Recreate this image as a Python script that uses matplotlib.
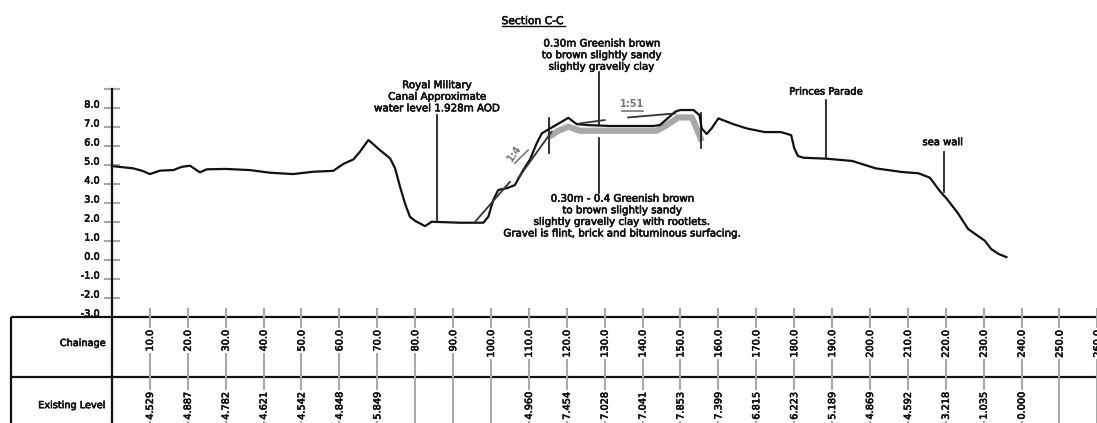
import matplotlib
matplotlib.use('Agg')
import matplotlib.pyplot as plt
import matplotlib.patheffects as pe
from matplotlib.transforms import ScaledTranslation

# ground profile
PROFILE_CH = [0, 5.6, 8, 10, 12.7, 16.2, 18.4, 20.6, 23.2, 25, 30, 36.4, 41.7, 47.8, 53, 58.4, 61, 63.7,
              65.44, 67.64, 68.5, 70.7, 73.4, 74.7, 76, 77.3, 78.6, 79.95, 82.6, 84.35, 91.8, 98, 99.3,
              100.6, 101.9, 104.1, 106.3, 108.5, 110.3, 112.05, 113.4, 115.6, 118.2, 120.4, 122.6, 125.3,
              131.4, 137.6, 142.9, 144.6, 148.6, 149.9, 153.4, 155, 155.6, 156.9, 158.2, 160, 163.9,
              167.5, 172.2, 176.5, 179.2, 180, 181, 182.4, 188.4, 195.3, 201.5, 208.4, 212.8, 215.8,
              218.5, 220.3, 223.2, 225.9, 230.3, 232, 234, 236]
PROFILE_LEVEL = [4.93, 4.81, 4.68, 4.51, 4.69, 4.72, 4.89, 4.95, 4.6, 4.76, 4.78, 4.72, 4.58, 4.51, 4.63,
                 4.68, 5.04, 5.28, 5.69, 6.3, 6.16, 5.77, 5.33, 4.81, 3.84, 2.97, 2.27, 2.05, 1.77, 2.0,
                 1.95, 1.95, 2.27, 3.14, 3.67, 3.76, 3.93, 4.72, 5.28, 6.12, 6.65, 6.91, 7.21, 7.47, 7.14,
                 7.09, 7.04, 7.04, 7.04, 7.09, 7.79, 7.88, 7.88, 7.62, 6.91, 6.62, 6.91, 7.44, 7.14,
                 6.91, 6.72, 6.72, 6.56, 5.88, 5.46, 5.37, 5.32, 5.2, 4.81, 4.62, 4.55, 4.32,
                 3.6, 3.2, 2.45, 1.62, 1.0, 0.56, 0.3, 0.14]

# grey clay layer under the embankment top
LAYER_CH = [116, 117.8, 120.4, 123.5, 143.7, 146.4, 149.4, 153, 154.1, 155.3]
LAYER_LEVEL = [6.56, 6.79, 7.0, 6.79, 6.79, 7.09, 7.49, 7.49, 7.0, 6.39]

# table
CHAINAGE = [10, 20, 30, 40, 50, 60, 70, 80, 90, 100, 110, 120, 130, 140, 150, 160, 170, 180, 190,
            200, 210, 220, 230, 240, 250, 260]
LEVEL_CH = [10, 20, 30, 40, 50, 60, 70, 110, 120, 130, 140, 150, 160, 170, 180, 190, 200, 210, 220, 230, 240]
LEVEL_LABELS = ['4.529', '4.887', '4.782', '4.621', '4.542', '4.848', '5.849', '4.960', '7.454', '7.028',
                '7.041', '7.853', '7.399', '6.815', '6.223', '5.189', '4.869', '4.592', '3.218', '1.035',
                '0.000']
Y_TICKS = [-3, -2, -1, 0, 1, 2, 3, 4, 5, 6, 7, 8, 9]

# leader lines: chainage, level from, level to
LEADERS = [(85.75, 7.62, 2.09), (128.6, 9.88, 7.09), (128.6, 6.4, 3.51), (115.4, 7.46, 5.62),
           (155.4, 7.72, 5.88), (188.5, 8.41, 5.35), (219.5, 5.67, 3.56)]
# slope lines: ch0, level0, ch1, level1
SLOPES = [(95.8, 2.0, 105, 4.1), (107.2, 4.3, 116, 6.74), (136.2, 7.49, 148.6, 7.7), (123.5, 7.18, 130, 7.35)]

BLACK = '#111111'
GREY = '#a8a8a8'
BOLDISH = [pe.withStroke(linewidth=0.45, foreground=BLACK)]


def label(ax, x, y, s, **kw):
    kw.setdefault('fontsize', 7)
    kw.setdefault('color', BLACK)
    kw.setdefault('ha', 'center')
    kw.setdefault('va', 'center')
    t = ax.text(x, y, s, **kw)
    t.set_path_effects(BOLDISH)
    return t


def draw_table(ax):
    ax.hlines([-3, -6.15], -26.65, 260, color=BLACK, lw=1.6, zorder=3)
    ax.vlines(-26.65, -8.6, -3, color=BLACK, lw=1.6, zorder=3)
    ax.vlines(CHAINAGE, -8.6, -2.54, color=GREY, lw=1.5, zorder=4)

    white = dict(facecolor='white', edgecolor='none', pad=1.2)
    for ch in CHAINAGE:
        label(ax, ch, -3.7, '%.1f' % ch, rotation=90, va='top', bbox=white, zorder=5, clip_on=True)
    for ch, s in zip(LEVEL_CH, LEVEL_LABELS):
        label(ax, ch, -6.96, s, rotation=90, va='top', bbox=white, zorder=5, clip_on=True)

    label(ax, -1.6, -4.38, 'Chainage', ha='right')
    label(ax, -1.6, -7.65, 'Existing Level', ha='right')


def draw_notes(ax):
    label(ax, 111, 12.56, 'Section C-C', fontsize=7.7)
    ax.plot([102.8, 119.5], [12.3, 12.3], color=BLACK, lw=1)
    label(ax, 129.2, 10.77, '0.30m Greenish brown\nto brown slightly sandy\nslightly gravelly clay', fontsize=7.4)
    label(ax, 85.75, 8.58, 'Royal Military\nCanal Approximate\nwater level 1.928m AOD', fontsize=7.4)
    label(ax, 134.6, 2.3, '0.30m - 0.4 Greenish brown\nto brown slightly sandy\n'
                          'slightly gravelly clay with rootlets.\nGravel is flint, brick and bituminous surfacing.',
          fontsize=7.4)
    label(ax, 188.4, 8.85, 'Princes Parade', fontsize=7.2)
    label(ax, 219.2, 6.19, 'sea wall', fontsize=7.2)

    # gradient labels
    ax.text(106.1, 5.6, '1:4', rotation=55, fontsize=7, color='#777777', weight='bold', ha='center', va='center')
    ax.plot([106.3, 109.8], [5.09, 5.77], color='#777777', lw=1.2)
    ax.text(137.2, 8.19, '1:51', fontsize=7, color='#777777', weight='bold', ha='center', va='center')
    ax.plot([134.5, 140.1], [7.84, 7.84], color='#777777', lw=1.2)


def main():
    fig = plt.figure(figsize=(10.97, 4.23), dpi=100)
    ax = fig.add_axes([0, 0, 1, 1])
    ax.set_xlim(-29.55, 259.9)
    ax.set_ylim(-8.59, 13.67)

    for side in ['top', 'right', 'bottom']:
        ax.spines[side].set_visible(False)
    ax.spines['left'].set_position(('data', 0))
    ax.spines['left'].set_bounds(-8.59, 9)
    ax.spines['left'].set_linewidth(1.6)
    ax.spines['left'].set_color(BLACK)
    ax.spines['left'].set_zorder(3)

    ax.set_xticks([])
    ax.set_yticks(Y_TICKS)
    ax.set_yticklabels(['%.1f' % v if v < 9 else '' for v in Y_TICKS])
    ax.tick_params(axis='y', direction='inout', length=12, width=1.5, color=GREY, pad=3, labelsize=7,
                   labelcolor=BLACK, zorder=6)
    for t in ax.get_yticklabels():
        t.set_path_effects(BOLDISH)
        t.set_transform(t.get_transform() + ScaledTranslation(0, 3 / 72, fig.dpi_scale_trans))

    ax.plot(LAYER_CH, LAYER_LEVEL, color=GREY, lw=4.5, solid_joinstyle='round', zorder=2)
    ax.plot(PROFILE_CH, PROFILE_LEVEL, color=BLACK, lw=1.6, zorder=3)
    for ch, y0, y1 in LEADERS:
        ax.plot([ch, ch], [y0, y1], color=BLACK, lw=1.2, zorder=3)
    for x0, y0, x1, y1 in SLOPES:
        ax.plot([x0, x1], [y0, y1], color='#333333', lw=1.3, zorder=3)

    draw_table(ax)
    draw_notes(ax)

    fig.savefig('out.png', dpi=100, facecolor='white')


main()
